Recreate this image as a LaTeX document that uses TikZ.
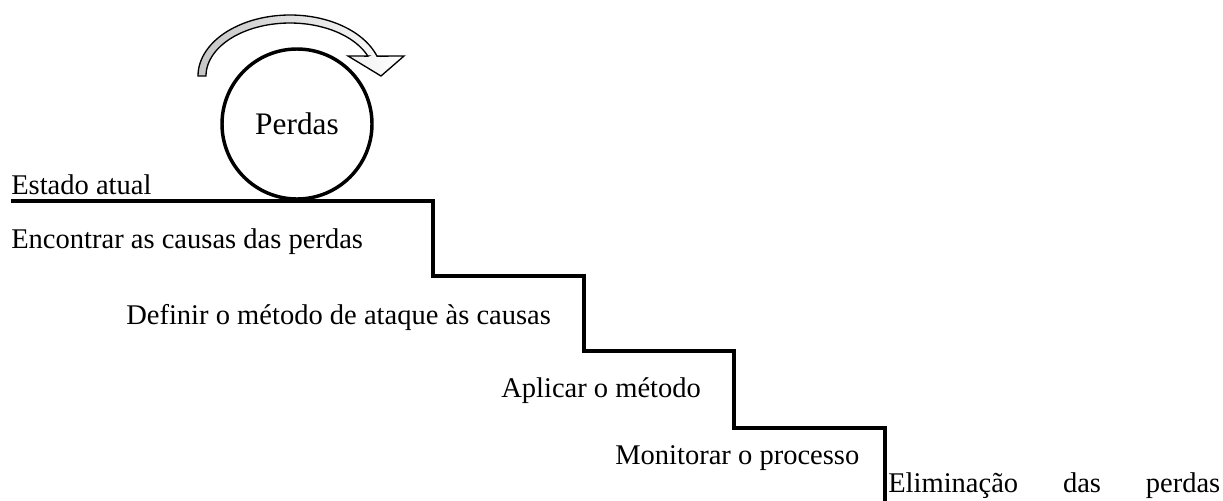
\documentclass[tikz,border=0pt]{standalone}
\usepackage{fontspec}
\setmainfont{Liberation Serif}
\begin{document}
\begin{tikzpicture}[x=0.75pt,y=-0.75pt,
  lbl/.style={anchor=base west,inner sep=0pt,font=\fontsize{21.4}{25}\selectfont},
  stair/.style={line width=2.6pt,line join=miter},
  ball/.style={circle,draw,line width=2.6pt,minimum size=112.5pt,inner sep=0pt,font=\fontsize{23.5}{28}\selectfont},
  turn/.style={draw=black,line width=1pt,left color=gray!45,right color=white,shading angle=90}]
\useasboundingbox (0,0) rectangle (1223,500);
% rotating arrow
\path[turn] plot[domain=180:341,samples=60] ({290+92*cos(\x)},{76+61*sin(\x)})
  -- (404,56) -- (381,76) -- (348,56) -- (368,56.1)
  -- plot[domain=338:180,samples=60] ({290+84*cos(\x)},{76+53*sin(\x)}) -- cycle;
% ball
\node[ball] (perdas) at (297,124) {Perdas};
% staircase
\coordinate (s0) at (11,201);
\coordinate (s1) at (433,201);
\coordinate (s2) at (433,276);
\coordinate (s3) at (584,276);
\coordinate (s4) at (584,351);
\coordinate (s5) at (734,351);
\coordinate (s6) at (734,428);
\coordinate (s7) at (885,428);
\coordinate (s8) at (885,510);
\draw[stair] (s0) -- (s1) -- (s2) -- (s3) -- (s4) -- (s5) -- (s6) -- (s7) -- (s8);
% labels
\node[lbl] (t0) at (11,194) {Estado atual};
\node[lbl] (t1) at (11,248) {Encontrar as causas das perdas};
\node[lbl] (t2) at (126,324) {Definir o método de ataque às causas};
\node[lbl] (t3) at (501,397) {Aplicar o método};
\node[lbl] (t4) at (615,464) {Monitorar o processo};
\node[lbl] (t5) at (888,492) {\makebox[249pt][s]{Eliminação\hfill das\hfill perdas}};
\end{tikzpicture}
\end{document}
